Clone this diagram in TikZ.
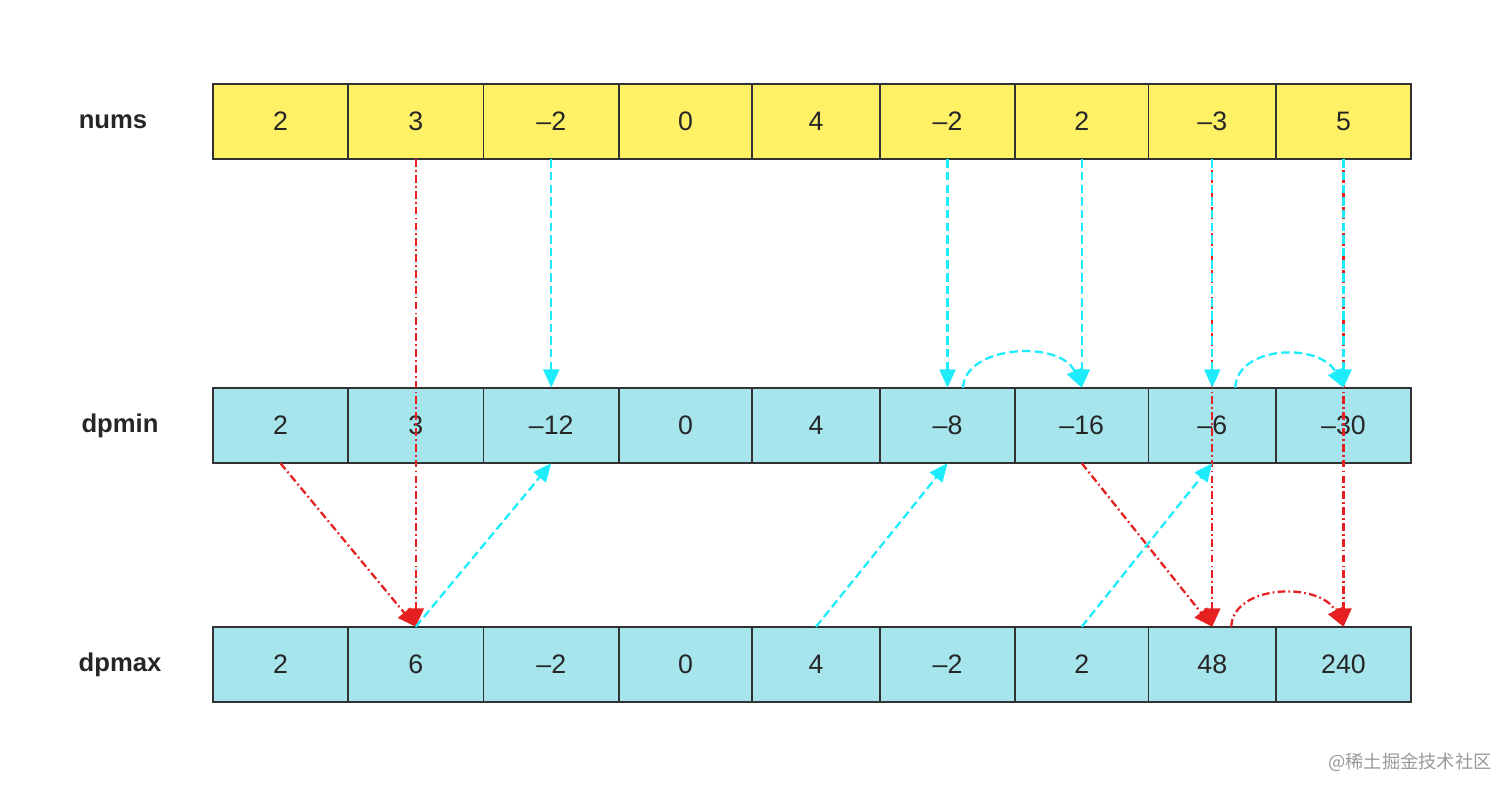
\documentclass[tikz,border=0pt]{standalone}
\usepackage{fontspec}
\setmainfont{Liberation Sans}
\newfontfamily\cjkfont{Noto Sans CJK SC}
\usepackage{xcolor}
\usetikzlibrary{arrows.meta}
\usetikzlibrary{math}
\definecolor{qyellow}{RGB}{255,241,102}
\definecolor{qblue}{RGB}{166,229,236}
\definecolor{qcyan}{RGB}{30,236,252}
\definecolor{qred}{RGB}{230,32,32}
\definecolor{qedge}{RGB}{50,50,50}

\tikzset{
  cell/.style={draw=qedge, line width=0.55pt, inner sep=0pt, outer sep=0pt,
    font=\fontsize{7.6}{9}\selectfont, text=black!85},
  rowlabel/.style={font=\bfseries\fontsize{7.3}{9}\selectfont, text=black!85},
  tip/.style={-{Triangle[length=5.2pt,width=4.5pt]}},
  minarrow/.style={tip, qcyan, line width=0.65pt, dash pattern=on 2.4pt off 1.2pt},
  maxarrow/.style={tip, qred, line width=0.65pt,
    dash pattern=on 2.2pt off 0.9pt on 0.5pt off 0.9pt},
}

\begin{document}
\begin{tikzpicture}[x=0.1mm, y=0.1mm]

\tikzmath{
\h = 75.5; %cell height
}
\def\xb{{213,348,483.5,619,752,880,1015,1148.5,1276,1411}}

\useasboundingbox (0,0) rectangle (1512,-795);

\foreach \row/\yy/\lx/\fc/\vals in {nums/121.5/113/qyellow/{2,3,–2,0,4,–2,2,–3,5},
    dpmin/425.5/120/qblue/{2,3,–12,0,4,–8,–16,–6,–30},
    dpmax/664.5/120/qblue/{2,6,–2,0,4,–2,2,48,240}}{
  \node[rowlabel] (\row label) at (\lx,-\yy) {\row};
  \foreach \v [count=\i from 0] in \vals {
    \pgfmathsetmacro\xl{\xb[\i]}
    \pgfmathsetmacro\xr{\xb[\i+1]}
    \node[cell, fill=\fc, minimum width=(\xr-\xl)*0.1mm, minimum height=\h*0.1mm]
      (\row\i) at ({(\xl+\xr)/2},-\yy) {\v};
  }
}

% max chain
\draw[maxarrow] (nums1.south) -- (dpmax1.north);
\draw[maxarrow] (dpmin0.south) -- (dpmax1.north);
\draw[maxarrow] (dpmin6.south) -- (dpmax7.north);
\draw[maxarrow] (nums7.south) -- (dpmax7.north);
\draw[maxarrow] (nums8.south) -- (dpmax8.north);
\draw[maxarrow] ([xshift=1.9mm]dpmax7.north) .. controls +(0.2mm,4.3mm) and +(-2.3mm,4.5mm) .. (dpmax8.north);

% min chain
\draw[minarrow] (nums2.south) -- (dpmin2.north);
\draw[minarrow] (nums5.south) -- (dpmin5.north);
\draw[minarrow] (nums6.south) -- (dpmin6.north);
\draw[minarrow] (nums7.south) -- (dpmin7.north);
\draw[minarrow] (nums8.south) -- (dpmin8.north);
\draw[minarrow] ([xshift=1.55mm]dpmin5.north) .. controls +(0.2mm,4.3mm) and +(-2.1mm,4.8mm) .. (dpmin6.north);
\draw[minarrow] ([xshift=2.3mm]dpmin7.north) .. controls +(0.2mm,4.3mm) and +(-2.3mm,4.5mm) .. (dpmin8.north);
\draw[minarrow] (dpmax1.north) -- (dpmin2.south);
\draw[minarrow] (dpmax4.north) -- (dpmin5.south);
\draw[minarrow] (dpmax6.north) -- (dpmin7.south);

\node[text=black!40, font=\cjkfont\fontsize{5.2}{6}\selectfont] (mark) at (1410,-762) {@稀土掘金技术社区};

\end{tikzpicture}
\end{document}
